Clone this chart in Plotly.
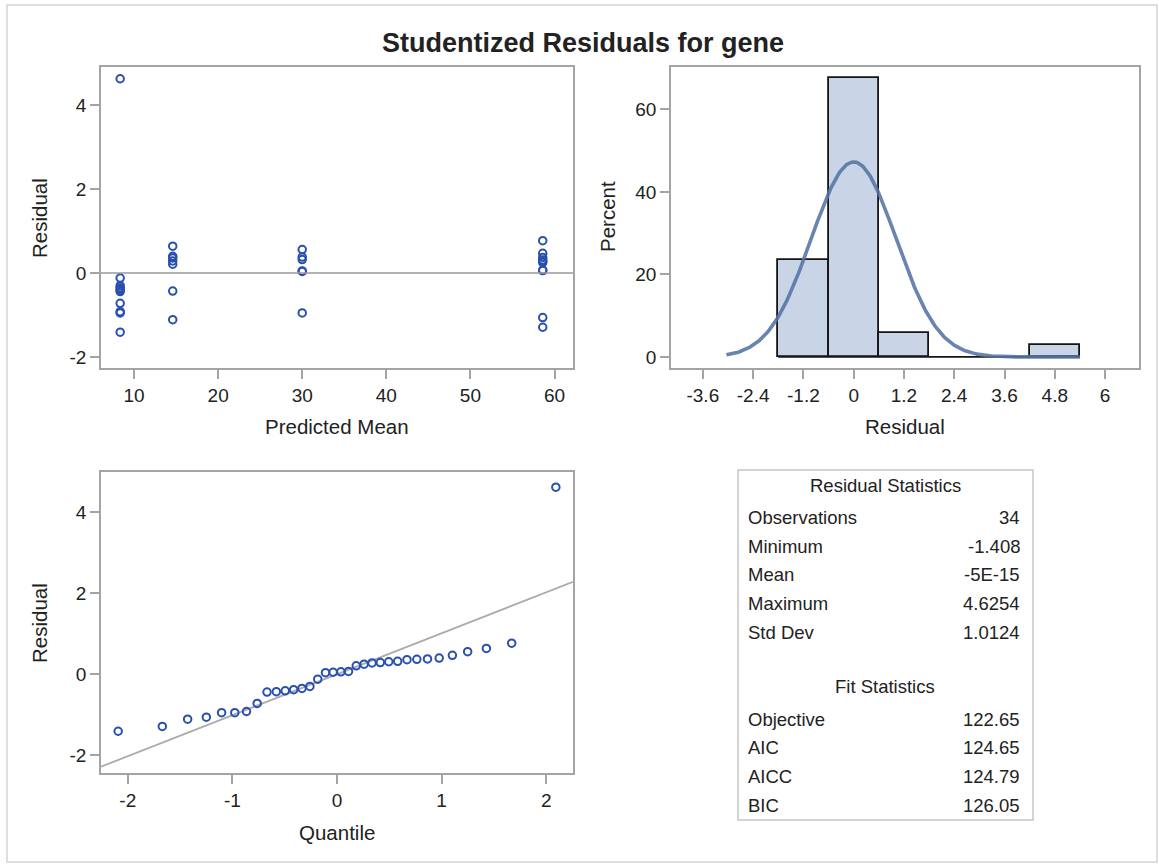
import numpy as np
import plotly.graph_objects as go

# ---- data -------------------------------------------------------------
# studentized residuals grouped by predicted mean
pred_means = [8.35, 14.6, 30.0, 58.6]
resid_groups = [
    [4.6254, -0.12, -0.30, -0.35, -0.38, -0.41, -0.44, -0.72, -0.92, -0.95, -1.408],
    [0.64, 0.40, 0.36, 0.29, 0.21, -0.43, -1.11],
    [0.56, 0.38, 0.32, 0.05, 0.04, -0.95],
    [0.77, 0.47, 0.37, 0.31, 0.28, 0.25, 0.07, 0.06, -1.06, -1.29],
]

# normal quantiles for the 34 ordered residuals
quantiles = [
    -2.092, -1.670, -1.428, -1.249, -1.103, -0.977, -0.865, -0.763, -0.669,
    -0.580, -0.495, -0.414, -0.335, -0.259, -0.184, -0.110, -0.037,
    0.037, 0.110, 0.184, 0.259, 0.335, 0.414, 0.495, 0.580, 0.669,
    0.763, 0.865, 0.977, 1.103, 1.249, 1.428, 1.670, 2.092,
]

resid_stat_labels = ["Observations", "Minimum", "Mean", "Maximum", "Std Dev"]
resid_stat_values = ["34", "-1.408", "-5E-15", "4.6254", "1.0124"]
fit_stat_labels = ["Objective", "AIC", "AICC", "BIC"]
fit_stat_values = ["122.65", "124.65", "124.79", "126.05"]

resid_mean = -5e-15
resid_sd = 1.0124

hist_bin_start = -1.8
hist_bin_end = 5.4
hist_bin_size = 1.2

x1_ticks = [10, 20, 30, 40, 50, 60]
x1_labels = ["10", "20", "30", "40", "50", "60"]
y1_ticks = [-2, 0, 2, 4]
y1_labels = ["-2", "0", "2", "4"]
x2_ticks = [-3.6, -2.4, -1.2, 0, 1.2, 2.4, 3.6, 4.8, 6]
x2_labels = ["-3.6", "-2.4", "-1.2", "0", "1.2", "2.4", "3.6", "4.8", "6"]
y2_ticks = [0, 20, 40, 60]
y2_labels = ["0", "20", "40", "60"]
x3_ticks = [-2, -1, 0, 1, 2]
x3_labels = ["-2", "-1", "0", "1", "2"]
y3_ticks = [-2, 0, 2, 4]
y3_labels = ["-2", "0", "2", "4"]

# ---- canvas geometry --------------------------------------------------
W, H = 1159, 865
FONT = "Liberation Sans, Arial, sans-serif"
TXT = "#222222"
FRAME = "#A4A4A4"
MARK = "#2A50AE"


def px(x):
    return x / W


def py(y):
    return 1 - y / H


fig = go.Figure()

# residual vs predicted mean
xs, ys = [], []
for m, grp in zip(pred_means, resid_groups):
    xs += [m] * len(grp)
    ys += grp
fig.add_trace(go.Scatter(
    x=xs, y=ys, mode="markers", xaxis="x", yaxis="y",
    marker=dict(symbol="circle-open", size=7.5, color=MARK, line=dict(width=2)),
    showlegend=False,
))

# histogram of residuals with fitted normal curve
all_resid = sorted(ys)
fig.add_trace(go.Histogram(
    x=all_resid, xaxis="x2", yaxis="y2", histnorm="percent",
    xbins=dict(start=hist_bin_start, end=hist_bin_end, size=hist_bin_size),
    autobinx=False,
    marker=dict(color="#C9D5E6", line=dict(color="#151515", width=1.8)),
    showlegend=False,
))
# baseline along the empty bins
fig.add_trace(go.Scatter(
    x=[hist_bin_start, hist_bin_end], y=[0, 0], mode="lines",
    xaxis="x2", yaxis="y2", line=dict(color="#151515", width=1.8),
    showlegend=False, hoverinfo="skip",
))
curve_x = np.linspace(resid_mean - 3 * resid_sd, hist_bin_end, 300)
curve_y = (100 * hist_bin_size / (resid_sd * np.sqrt(2 * np.pi))
           * np.exp(-0.5 * ((curve_x - resid_mean) / resid_sd) ** 2))
fig.add_trace(go.Scatter(
    x=curve_x, y=curve_y, mode="lines", xaxis="x2", yaxis="y2",
    line=dict(color="rgba(84,115,164,0.88)", width=3.6),
    showlegend=False, hoverinfo="skip",
))

# normal quantile plot
x3_range = [-2.256, 2.256]
fig.add_trace(go.Scatter(
    x=x3_range, y=[resid_mean + resid_sd * q for q in x3_range],
    mode="lines", xaxis="x3", yaxis="y3",
    line=dict(color="#ABABAB", width=1.8), showlegend=False,
))
fig.add_trace(go.Scatter(
    x=quantiles, y=all_resid, mode="markers", xaxis="x3", yaxis="y3",
    marker=dict(symbol="circle-open", size=7.5, color=MARK, line=dict(width=2)),
    showlegend=False,
))


def axis(domain, rng, ticks, labels, anchor):
    return dict(
        domain=domain, range=rng, tickmode="array", tickvals=ticks,
        ticktext=labels,
        ticks="outside", ticklen=9, tickwidth=1.5, tickcolor=FRAME,
        showline=True, mirror=True, linecolor=FRAME, linewidth=1.6,
        showgrid=False, zeroline=False,
        tickfont=dict(family=FONT, size=19, color=TXT),
        anchor=anchor, fixedrange=True,
    )


left_dom = [px(101), px(573)]
right_dom = [px(671), px(1139)]
top_dom = [py(368), py(67)]
bot_dom = [py(773), py(472)]

fig.update_layout(
    width=W, height=H,
    margin=dict(l=0, r=0, t=0, b=0),
    paper_bgcolor="white", plot_bgcolor="white",
    xaxis=axis(left_dom, [6.07, 62.2], x1_ticks, x1_labels, "y"),
    yaxis=axis(top_dom, [-2.26, 4.905], y1_ticks, y1_labels, "x"),
    xaxis2=axis(right_dom, [-4.36, 6.81], x2_ticks, x2_labels, "y2"),
    yaxis2=axis(top_dom, [-2.68, 70.3], y2_ticks, y2_labels, "x2"),
    xaxis3=axis(left_dom, x3_range, x3_ticks, x3_labels, "y3"),
    yaxis3=axis(bot_dom, [-2.44, 5.0], y3_ticks, y3_labels, "x3"),
    bargap=0,
)

# zero reference line on the residual plot
fig.add_shape(type="line", xref="x domain", yref="y", x0=0, x1=1, y0=0, y1=0,
              line=dict(color="#9A9A9A", width=1.6))

# outer border
fig.add_shape(type="rect", xref="paper", yref="paper",
              x0=px(7), x1=px(1157), y0=py(862), y1=py(5),
              line=dict(color="#D4D4D4", width=1.5))

# statistics panel border
fig.add_shape(type="rect", xref="paper", yref="paper",
              x0=px(738), x1=px(1033), y0=py(820), y1=py(470),
              line=dict(color="#C6C6C6", width=1.5))


def text(s, x, y, size, xanchor="center", angle=0, bold=False):
    fig.add_annotation(
        text=s, x=px(x), y=py(y), xref="paper", yref="paper",
        xanchor=xanchor, yanchor="middle", showarrow=False, textangle=angle,
        font=dict(family=FONT, size=size, color=TXT,
                  weight="bold" if bold else "normal"),
    )


text("Studentized Residuals for gene", 583, 43, 27, bold=True)

text("Predicted Mean", 337, 427, 20.5)
text("Residual", 39, 218, 20.5, angle=-90)
text("Residual", 905, 427, 20.5)
text("Percent", 608, 217, 20.5, angle=-90)
text("Quantile", 337, 832, 20.5)
text("Residual", 39, 623, 20.5, angle=-90)

# statistics panel
LBL_X, VAL_X, MID_X, ROW = 746, 1022, 885, 28.7
text("Residual Statistics", MID_X, 485, 18.5)
for i, (lab, val) in enumerate(zip(resid_stat_labels, resid_stat_values)):
    yy = 517.5 + i * ROW
    text(lab, LBL_X, yy, 18.5, xanchor="left")
    text(val, VAL_X, yy, 18.5, xanchor="right")
text("Fit Statistics", MID_X, 686.5, 18.5)
for i, (lab, val) in enumerate(zip(fit_stat_labels, fit_stat_values)):
    yy = 719 + i * ROW
    text(lab, LBL_X, yy, 18.5, xanchor="left")
    text(val, VAL_X, yy, 18.5, xanchor="right")

fig.write_html("out.html")
